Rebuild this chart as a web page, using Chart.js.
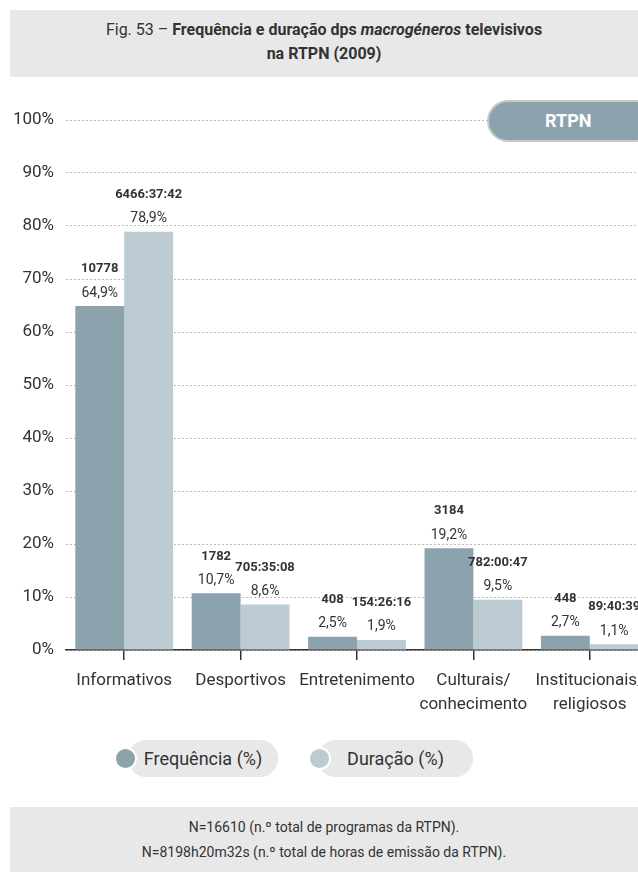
<!DOCTYPE html>
<html>
<head>
<meta charset="utf-8">
<script src="https://cdn.jsdelivr.net/npm/chart.js@4.4.1/dist/chart.umd.min.js"></script>
<style>
  body { margin: 0; width: 638px; height: 872px; overflow: hidden; background: #fff;
         font-family: Roboto, "Liberation Sans Narrow", sans-serif; color: #333; position: relative; }
  #titulo { position: absolute; left: 10px; top: 10px; width: 628px; height: 67px; background: #e8e8e8;
            text-align: center; font-size: 16px; line-height: 24px; padding-top: 8px; box-sizing: border-box; }
  #badge { position: absolute; left: 487px; top: 100px; width: 170px; height: 42px; border-radius: 21px;
           background: #8ca3ae; border: 2px solid #c8c8c8; color: #fff; font-weight: bold; font-size: 18px;
           line-height: 38px; box-sizing: border-box; padding-left: 56px; }
  #wrap { position: absolute; left: 0; top: 90px; width: 660px; height: 640px; }
  .pill { position: absolute; top: 740px; height: 37px; background: #e8e8e8; border-radius: 18px;
          font-size: 18px; line-height: 37px; text-align: center; }
  .dot { position: absolute; top: 747px; width: 23px; height: 23px; border-radius: 50%; border: 2px solid #fff; box-sizing: border-box; }
  #rodape { position: absolute; left: 10px; top: 807px; width: 628px; height: 65px; background: #e8e8e8;
            text-align: center; font-size: 14px; line-height: 25px; padding-top: 8px; box-sizing: border-box; }
</style>
</head>
<body>
<div id="titulo">Fig. 53 – <b>Frequência e duração dps <i>macrogéneros</i> televisivos<br>na RTPN (2009)</b></div>
<div id="wrap"><canvas id="grafico" width="660" height="640"></canvas></div>
<div id="badge">RTPN</div>
<div class="pill" style="left:128px;width:150px;">Frequência (%)</div>
<div class="dot" style="left:114px;background:#8ca3ae;"></div>
<div class="pill" style="left:318px;width:155px;">Duração (%)</div>
<div class="dot" style="left:308px;background:#bccbd2;"></div>
<div id="rodape">N=16610 (n.º total de programas da RTPN).<br>N=8198h20m32s (n.º total de horas de emissão da RTPN).</div>

<script>
const categorias = [["Informativos"], ["Desportivos"], ["Entretenimento"], ["Culturais/", "conhecimento"], ["Institucionais/", "religiosos"]];
const frequencia = [64.9, 10.7, 2.5, 19.2, 2.7];
const duracao = [78.9, 8.6, 1.9, 9.5, 1.1];
const numProgramas = ["10778", "1782", "408", "3184", "448"];
const horas = ["6466:37:42", "705:35:08", "154:26:16", "782:00:47", "89:40:39"];
const ticksY = [0, 10, 20, 30, 40, 50, 60, 70, 80, 90, 100];

const fonte = 'Roboto, "Liberation Sans Narrow", sans-serif';

// Rotulos por cima das barras
const rotulos = {
    id: 'rotulos',
    afterDatasetsDraw(chart) {
        const ctx = chart.ctx;
        ctx.save();
        ctx.fillStyle = '#333';
        ctx.textAlign = 'center';
        ctx.textBaseline = 'middle';
        chart.data.datasets.forEach((ds, i) => {
            const meta = chart.getDatasetMeta(i);
            const topo = i === 0 ? numProgramas : horas;
            meta.data.forEach((bar, j) => {
                ctx.font = 'bold 13px ' + fonte;
                ctx.fillText(topo[j], bar.x, bar.y - 37);
                ctx.font = '14px ' + fonte;
                ctx.fillText(ds.data[j].toFixed(1).replace('.', ',') + '%', bar.x, bar.y - 13);
            });
        });
        ctx.restore();
    }
};

new Chart(document.getElementById("grafico"), {
    type: 'bar',
    data: {
        labels: categorias,
        datasets: [
            { label: 'Frequência (%)', data: frequencia, backgroundColor: '#8ca3ae' },
            { label: 'Duração (%)', data: duracao, backgroundColor: '#bccbd2' }
        ]
    },
    options: {
        responsive: false,
        animation: false,
        devicePixelRatio: 1,
        layout: { padding: { top: 30, left: 0, right: 12 } },
        datasets: { bar: { categoryPercentage: 0.84, barPercentage: 1 } },
        plugins: { legend: { display: false }, tooltip: { enabled: false } },
        scales: {
            x: {
                grid: { offset: false, drawOnChartArea: false, color: '#333', tickLength: 10, lineWidth: 1.5 },
                border: { color: '#333', width: 1.5 },
                ticks: { color: '#333', font: { family: fonte, size: 17, lineHeight: 1.45 }, padding: 8, maxRotation: 0, autoSkip: false },
                afterFit(scale) { scale.height = 80; }
            },
            y: {
                min: 0, max: 100,
                afterBuildTicks(scale) { scale.ticks = ticksY.map(v => ({ value: v })); },
                grid: { color: '#bbb', drawTicks: false },
                border: { display: false, dash: [2, 2] },
                ticks: { color: '#333', font: { family: fonte, size: 17 }, padding: 12, callback: v => v + '%' },
                afterFit(scale) { scale.width = 66; }
            }
        }
    },
    plugins: [rotulos]
});
</script>
</body>
</html>
